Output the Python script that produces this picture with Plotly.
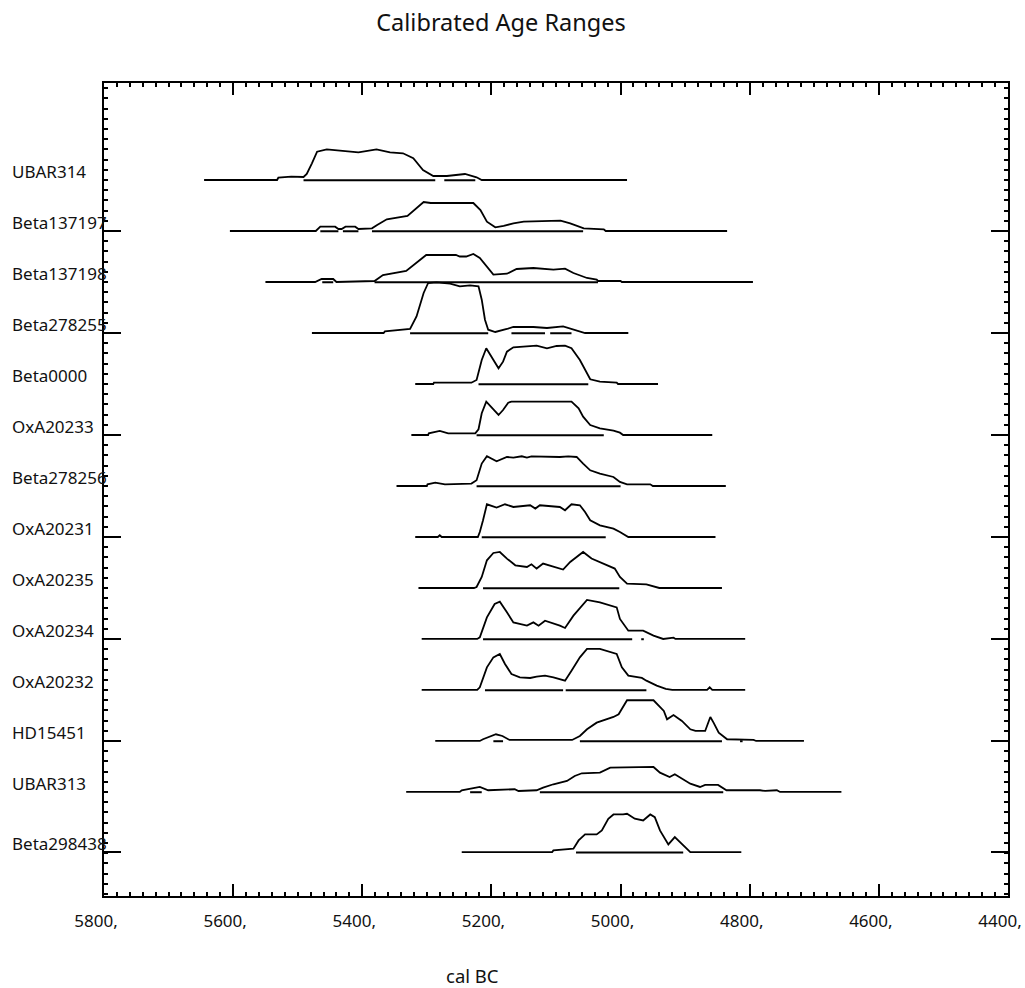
import plotly.graph_objects as go

# ---------------- data (years cal BC, relative probability) ----------------
SAMPLES = ["UBAR314", "Beta137197", "Beta137198", "Beta278255", "Beta0000",
           "OxA20233", "Beta278256", "OxA20231", "OxA20235", "OxA20234",
           "OxA20232", "HD15451", "UBAR313", "Beta298438"]

UBAR314_YEARS = [5645, 5532, 5530, 5510, 5491, 5486, 5478, 5470, 5455, 5435, 5406, 5378, 5357, 5337, 5321, 5306, 5290, 5269, 5241, 5223, 5218, 5215, 4990]
UBAR314_PROB = [0, 0, 2.3, 3.3, 3, 6, 16.7, 28.3, 30.7, 29.3, 27.7, 30.7, 27.7, 26.7, 21.7, 10, 4, 4, 6, 2.7, 0.7, 0, 0]
UBAR314_RANGES = [(5491, 5287), (5273, 5225)]

BETA137197_YEARS = [5605, 5472, 5465, 5442, 5437, 5432, 5426, 5411, 5406, 5385, 5377, 5362, 5330, 5320, 5305, 5294, 5228, 5217, 5207, 5194, 5181, 5166, 5150, 5093, 5078, 5057, 5026, 5023, 4835]
BETA137197_PROB = [0, 0, 4.3, 4.3, 2, 2, 4.3, 4.3, 2, 2.7, 6, 11.7, 15, 21, 29, 28, 28, 21, 9.3, 3.7, 5, 7.7, 9.3, 10.3, 7.7, 2.7, 1.7, 0, 0]
BETA137197_RANGES = [(5465, 5437), (5430, 5406), (5385, 5058)]

BETA137198_YEARS = [5550, 5473, 5463, 5445, 5440, 5381, 5368, 5332, 5301, 5255, 5249, 5239, 5228, 5218, 5197, 5176, 5161, 5135, 5104, 5086, 5073, 5052, 5037, 5035, 5000, 4998, 4795]
BETA137198_PROB = [0, 0, 3, 3, 0, 1, 7, 11, 27, 27, 25.5, 25.5, 28, 24, 7.3, 8.3, 13, 14, 12.3, 13.3, 9, 4, 2.3, 1, 1, 0, 0]
BETA137198_RANGES = [(5462, 5445), (5381, 5035)]

BETA278255_YEARS = [5478, 5367, 5365, 5334, 5326, 5316, 5305, 5298, 5285, 5264, 5249, 5233, 5220, 5215, 5210, 5205, 5194, 5176, 5166, 5135, 5114, 5089, 5073, 5063, 5055, 4988]
BETA278255_PROB = [0, 0, 1.6, 3.3, 4, 16.6, 40, 50, 50.6, 49.3, 46.6, 47.6, 46.6, 33.3, 13.3, 3.3, 1, 4, 6, 6, 5, 6.6, 3.3, 1, 0, 0]
BETA278255_RANGES = [(5326, 5205), (5169, 5117), (5109, 5076)]

BETA0000_YEARS = [5318, 5290, 5289, 5231, 5223, 5215, 5208, 5200, 5189, 5182, 5176, 5166, 5145, 5130, 5114, 5099, 5086, 5076, 5063, 5055, 5047, 5032, 5006, 5004, 4942]
BETA0000_PROB = [0, 0, 1.3, 1.3, 4, 24, 35.7, 27.3, 15.7, 22.3, 32.3, 36.7, 38, 38.3, 35.7, 38, 38.3, 35.7, 24, 14, 4.7, 2.3, 1.3, 0, 0]
BETA0000_RANGES = [(5220, 5050)]

OXA20233_YEARS = [5324, 5298, 5297, 5280, 5267, 5225, 5220, 5215, 5208, 5197, 5189, 5182, 5174, 5169, 5076, 5065, 5058, 5047, 5032, 5011, 5001, 4996, 4858]
OXA20233_PROB = [0, 0, 1.7, 4, 1.7, 1.7, 5.7, 21.7, 33.3, 25, 20, 25, 32.3, 33.3, 33.3, 26.7, 18.3, 10, 6.7, 4.3, 2.3, 0, 0]
OXA20233_RANGES = [(5223, 5026)]

BETA278256_YEARS = [5347, 5300, 5299, 5287, 5272, 5231, 5223, 5215, 5207, 5192, 5176, 5166, 5153, 5145, 5138, 5094, 5081, 5068, 5058, 5047, 5032, 5011, 5001, 4990, 4954, 4950, 4837]
BETA278256_PROB = [0, 0, 1.7, 3.4, 1.7, 2.4, 5.7, 22.4, 29.7, 24.7, 29, 28.4, 29.7, 28.4, 29.7, 29, 29.7, 29, 22.4, 15.7, 12.4, 9, 4, 1.7, 1.7, 0, 0]
BETA278256_RANGES = [(5223, 5000)]

OXA20231_YEARS = [5318, 5283, 5280, 5277, 5221, 5218, 5213, 5207, 5192, 5179, 5166, 5140, 5132, 5125, 5094, 5086, 5076, 5063, 5055, 5047, 5032, 5011, 5001, 4990, 4988, 4853]
OXA20231_PROB = [0, 0, 1.7, 0, 0, 5, 16.7, 32.7, 29.4, 32.7, 30, 31.7, 28.4, 31.7, 30, 26.7, 32.7, 31.7, 25, 16.7, 11.7, 8.4, 5, 0.7, 0, 0]
OXA20231_RANGES = [(5215, 5023)]

OXA20235_YEARS = [5313, 5227, 5223, 5215, 5207, 5197, 5187, 5176, 5163, 5145, 5138, 5130, 5120, 5104, 5089, 5078, 5058, 5045, 5027, 5009, 5001, 4990, 4960, 4944, 4940, 4843]
OXA20235_PROB = [0, 0, 1, 11, 27.7, 35, 36, 29.4, 22.7, 21, 23.7, 19.4, 24.4, 21.7, 18.4, 26, 36, 29.4, 24.4, 19.4, 11, 4.4, 3.7, 1, 0, 0]
OXA20235_RANGES = [(5213, 5002)]

OXA20234_YEARS = [5308, 5222, 5218, 5207, 5195, 5187, 5176, 5166, 5145, 5135, 5127, 5117, 5094, 5086, 5073, 5052, 5032, 5006, 5001, 4988, 4965, 4949, 4934, 4918, 4915, 4807]
OXA20234_PROB = [0, 0, 1.6, 21.6, 35, 37.3, 26.6, 16.6, 13.3, 16.6, 13.3, 18.3, 13.3, 11, 23.3, 39, 36.6, 31.6, 20, 8.3, 8.3, 3.3, 0, 1.3, 0, 0]
OXA20234_RANGES = [(5213, 4982), (4968, 4964)]

OXA20232_YEARS = [5308, 5222, 5218, 5207, 5197, 5187, 5179, 5169, 5156, 5140, 5130, 5117, 5104, 5086, 5076, 5063, 5052, 5032, 5006, 4998, 4988, 4967, 4960, 4944, 4930, 4920, 4866, 4862, 4858, 4807]
OXA20232_PROB = [0, 0, 2.6, 22.6, 32.6, 36, 26, 16, 12.6, 12, 13.3, 14.3, 12.6, 9.3, 19.3, 32.6, 41, 41, 36, 22.6, 14.3, 12, 9.3, 4.3, 1, 0, 0, 2.6, 0, 0]
OXA20232_RANGES = [(5210, 5089), (5085, 4960)]

HD15451_YEARS = [5287, 5218, 5213, 5193, 5183, 5172, 5075, 5063, 5052, 5037, 5011, 5003, 4990, 4949, 4933, 4928, 4918, 4905, 4892, 4884, 4869, 4861, 4856, 4848, 4835, 4812, 4794, 4790, 4716]
HD15451_PROB = [0, 0, 1.7, 6.7, 5, 1, 1, 5, 11.7, 18.3, 24, 26.7, 40.7, 40.7, 30, 21.7, 26, 20, 11.7, 10, 10, 24, 18.3, 8.3, 1.7, 1.7, 1, 0, 0]
HD15451_RANGES = [(5197, 5182), (5063, 4843), (4815, 4811)]

UBAR313_YEARS = [5332, 5249, 5246, 5231, 5218, 5205, 5164, 5158, 5130, 5120, 5104, 5083, 5071, 5060, 5032, 5016, 4980, 4949, 4939, 4924, 4916, 4908, 4892, 4877, 4869, 4849, 4836, 4784, 4776, 4758, 4753, 4658]
UBAR313_PROB = [0, 0, 1.7, 3.7, 5, 1.7, 2.7, 1, 1.7, 4.3, 7.7, 11, 16, 18.7, 19.3, 24.3, 25, 25, 19.3, 15, 17.7, 14.3, 8.3, 5, 7, 7, 1.7, 1.7, 1, 1.7, 0, 0]
UBAR313_RANGES = [(5233, 5215), (5125, 4841)]

BETA298438_YEARS = [5246, 5106, 5104, 5073, 5065, 5055, 5037, 5029, 5019, 5011, 4996, 4990, 4978, 4965, 4954, 4947, 4939, 4926, 4916, 4903, 4892, 4813]
BETA298438_PROB = [0, 0, 1.7, 3.4, 11.7, 17.7, 17.7, 21.7, 33.4, 37.7, 37.7, 38.4, 33.4, 31.7, 37.7, 35, 21.7, 7.7, 15, 6.7, 0, 0]
BETA298438_RANGES = [(5069, 4903)]

X_TICKS = [5800, 5600, 5400, 5200, 5000, 4800, 4600, 4400]

# ---------------- layout helpers ----------------
ROW_POS = [0, 1, 2, 3, 4, 5, 6, 7, 8, 9, 10, 11, 12, 13.18]
Y_MAJOR = [1, 3, 5, 7, 9, 11, 13.18]
PROB_SCALE = 1 / 51.0

YEARS = [UBAR314_YEARS, BETA137197_YEARS, BETA137198_YEARS, BETA278255_YEARS, BETA0000_YEARS,
         OXA20233_YEARS, BETA278256_YEARS, OXA20231_YEARS, OXA20235_YEARS, OXA20234_YEARS,
         OXA20232_YEARS, HD15451_YEARS, UBAR313_YEARS, BETA298438_YEARS]
PROBS = [UBAR314_PROB, BETA137197_PROB, BETA137198_PROB, BETA278255_PROB, BETA0000_PROB,
         OXA20233_PROB, BETA278256_PROB, OXA20231_PROB, OXA20235_PROB, OXA20234_PROB,
         OXA20232_PROB, HD15451_PROB, UBAR313_PROB, BETA298438_PROB]
RANGES = [UBAR314_RANGES, BETA137197_RANGES, BETA137198_RANGES, BETA278255_RANGES, BETA0000_RANGES,
          OXA20233_RANGES, BETA278256_RANGES, OXA20231_RANGES, OXA20235_RANGES, OXA20234_RANGES,
          OXA20232_RANGES, HD15451_RANGES, UBAR313_RANGES, BETA298438_RANGES]

FONT = "Noto Sans"
INK = "#111111"

fig = go.Figure()
annotations = []
for name, pos, yrs, prob, rng in zip(SAMPLES, ROW_POS, YEARS, PROBS, RANGES):
    fig.add_trace(go.Scatter(
        x=yrs, y=[pos - p * PROB_SCALE for p in prob], mode="lines",
        line=dict(color="black", width=1.8), hoverinfo="skip", showlegend=False))
    bx, by = [], []
    for a, b in rng:
        bx += [a, b, None]
        by += [pos + 0.005, pos + 0.005, None]
    fig.add_trace(go.Scatter(
        x=bx, y=by, mode="lines", line=dict(color="black", width=2),
        hoverinfo="skip", showlegend=False))
    annotations.append(dict(
        text=name, xref="paper", yref="y", x=(10 - 104) / 904, y=pos - 0.16,
        xanchor="left", yanchor="middle", showarrow=False,
        font=dict(family=FONT, size=17, color=INK)))

annotations.append(dict(
    text="cal BC", xref="paper", yref="paper", x=(472 - 104) / 904, y=-(975 - 896) / 813,
    xanchor="center", yanchor="middle", showarrow=False,
    font=dict(family=FONT, size=18.5, color=INK)))

fig.update_layout(
    width=1025, height=988, autosize=False,
    margin=dict(l=104, r=17, t=83, b=92),
    paper_bgcolor="white", plot_bgcolor="white",
    title=dict(text="Calibrated Age Ranges", xref="container", yref="container",
               x=501 / 1025, y=1 - 23 / 988, xanchor="center", yanchor="middle",
               font=dict(family=FONT, size=23.5, color=INK)),
    annotations=annotations,
    xaxis=dict(
        range=[5800, 4400], tickmode="array", tickvals=X_TICKS,
        ticktext=[f"{v}," for v in X_TICKS], automargin=False,
        ticks="inside", ticklen=12, tickwidth=1.5, tickcolor="black",
        showline=True, linewidth=2, linecolor="black", mirror="ticks",
        showgrid=False, zeroline=False,
        tickfont=dict(family=FONT, size=17, color=INK),
        ticklabelstandoff=9, ticklabelshift=8, ticklabeloverflow="allow",
        minor=dict(tickmode="linear", tick0=4400, dtick=20, ticks="inside",
                   ticklen=4, tickwidth=1.5, tickcolor="black", showgrid=False)),
    yaxis=dict(
        range=[14.04, -1.902], tickmode="array", tickvals=Y_MAJOR, automargin=False,
        showticklabels=False, ticks="inside", ticklen=17, tickwidth=1.5, tickcolor="black",
        showline=True, linewidth=2, linecolor="black", mirror="ticks",
        showgrid=False, zeroline=False,
        minor=dict(tickmode="linear", tick0=1, dtick=0.2, ticks="inside",
                   ticklen=4, tickwidth=1.5, tickcolor="black", showgrid=False)),
)

fig.write_html("out.html", config={"displayModeBar": False},
               post_script="document.body.style.margin='0px';")
